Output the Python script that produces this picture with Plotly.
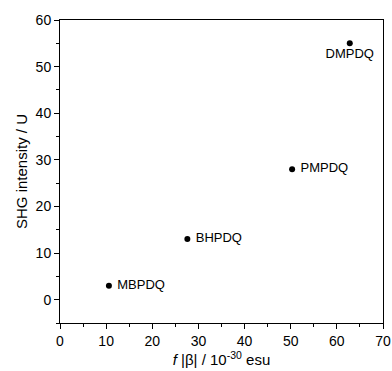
import plotly.graph_objects as go

names = ["MBPDQ", "BHPDQ", "PMPDQ", "DMPDQ"]
f_beta = [10.6, 27.6, 50.3, 62.8]
shg = [3, 13, 28, 55]
text_pos = ["middle right", "middle right", "middle right", "bottom center"]

fig = go.Figure()
fig.add_trace(go.Scatter(
    x=f_beta, y=shg, mode="markers+text",
    text=[" " + n if p == "middle right" else n for n, p in zip(names, text_pos)],
    textposition=text_pos,
    textfont=dict(family="Liberation Sans, Arial", size=13, color="black"),
    marker=dict(color="black", size=6),
    cliponaxis=False, showlegend=False,
))

axis_common = dict(
    showline=True, linecolor="black", linewidth=1, mirror=True,
    ticks="outside", ticklen=5, tickcolor="black", tickwidth=1,
    showgrid=False, zeroline=False, automargin=False,
    tickfont=dict(family="Liberation Sans, Arial", size=14, color="black"),
)

fig.update_xaxes(
    range=[0, 70], tickvals=[0, 10, 20, 30, 40, 50, 60, 70],
    minor=dict(ticks="outside", ticklen=3, dtick=5, tickcolor="black"),
    title=dict(text="<i>f</i> |β| / 10<sup>-30</sup> esu",
               font=dict(family="Liberation Sans, Arial", size=15, color="black"),
               standoff=0),
    **axis_common,
)
fig.update_yaxes(
    range=[-5, 60], tickvals=[0, 10, 20, 30, 40, 50, 60],
    minor=dict(ticks="outside", ticklen=3, dtick=5, tick0=0, tickcolor="black"),
    title=dict(text="SHG intensity / U",
               font=dict(family="Liberation Sans Narrow, Liberation Sans, Arial", size=15, color="black"),
               standoff=4),
    **axis_common,
)

fig.update_layout(
    width=392, height=371,
    margin=dict(l=60, r=9, t=20, b=48),
    plot_bgcolor="white", paper_bgcolor="white",
)

fig.write_html(
    "out.html",
    config={"displayModeBar": False},
    post_script="document.body.style.margin='0';document.body.style.overflow='hidden';",
)
